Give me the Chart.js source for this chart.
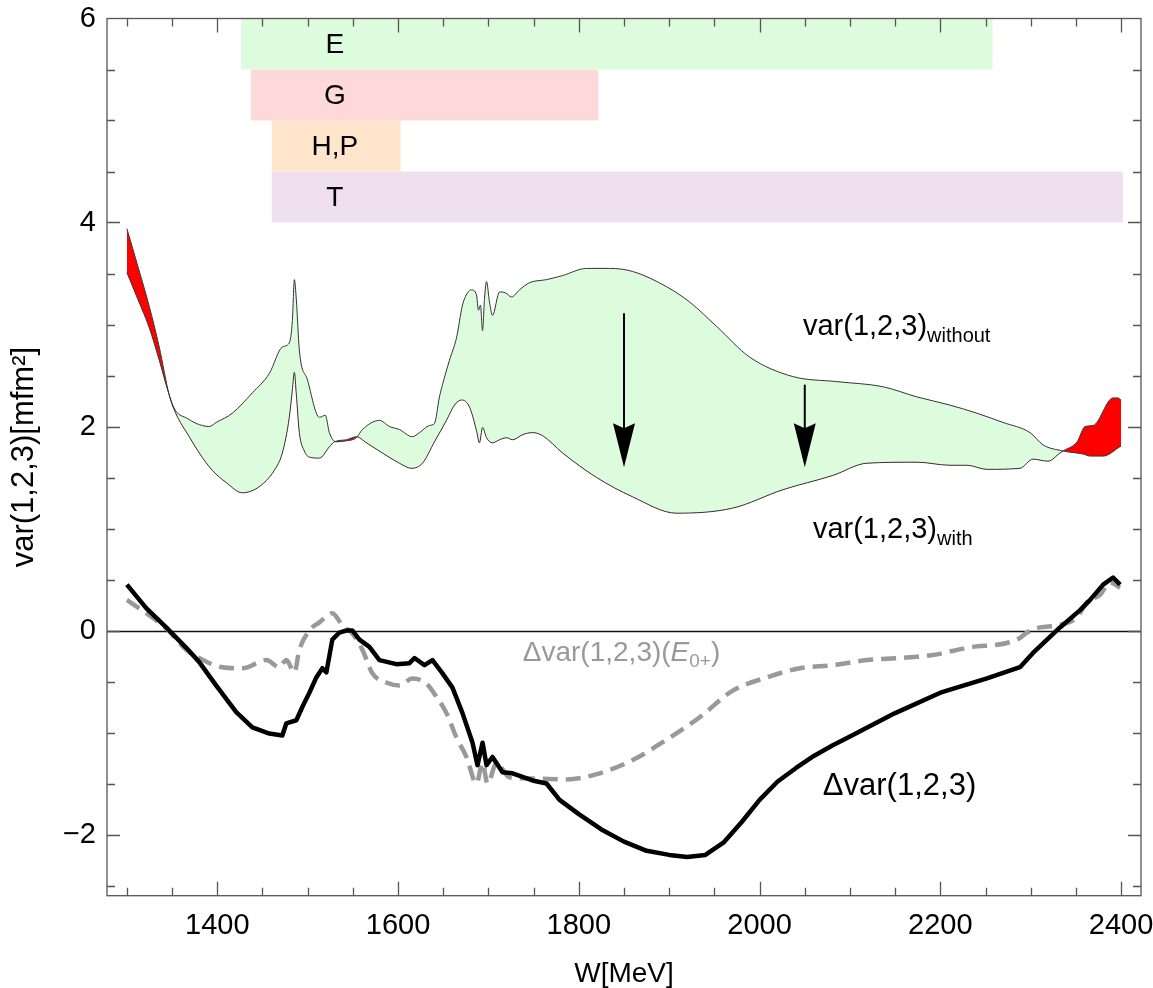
<!DOCTYPE html>
<html><head><meta charset="utf-8">
<script src="https://cdn.jsdelivr.net/npm/chart.js@4.4.0/dist/chart.umd.min.js"></script>
<style>html,body{margin:0;padding:0;background:#fff;}#wrap{width:1153px;height:988px;}</style>
</head><body><div id="wrap"><canvas id="c" width="1153" height="988"></canvas></div>
<script>
// ---- data (W in MeV, values in mfm^2) ----
const withoutW = [1300,1312.5,1324.7,1335.8,1346.8,1353.5,1366.8,1376.7,1391.1,1398.9,1416.6,1438.8,1457.6,1472,1479.7,1483.1,1485.3,1487.5,1490.8,1499.7,1513,1519.6,1524,1531.8,1542.9,1553.9,1560.6,1579.4,1590.5,1601.5,1615.9,1623.7,1634.8,1640.3,1645.8,1649.2,1656.9,1664.7,1671.3,1676.9,1681.3,1686.8,1689,1691.2,1693.5,1695.7,1697.9,1701.2,1704.5,1712.3,1718.9,1725.6,1734.4,1745.5,1764.3,1782.1,1808.6,1834.1,1859.6,1897.2,1922.7,1952.6,1989.1,2036.7,2085.4,2136.4,2174.1,2210.6,2240.5,2269.3,2299.2,2313.6,2335.8,2357.9,2365.7,2380.1,2400];
const withoutV = [3.51,3.24,2.97,2.65,2.31,2.16,2.08,2.03,2.00,2.04,2.13,2.33,2.52,2.78,2.82,3.04,3.44,3.24,2.75,2.46,2.09,2.11,1.94,1.85,1.86,1.89,1.97,2.06,2.00,1.97,1.90,1.94,2.01,2.03,2.29,2.41,2.65,2.87,3.19,3.31,3.34,3.29,3.14,3.19,2.94,3.26,3.42,3.22,3.09,3.32,3.31,3.27,3.34,3.41,3.44,3.48,3.55,3.55,3.52,3.37,3.22,2.98,2.68,2.49,2.44,2.39,2.29,2.21,2.13,2.04,1.94,1.82,1.76,1.73,1.71,1.71,1.81];
const withW = [1300,1312.5,1324.7,1335.8,1346.8,1353.5,1369,1380.1,1394.5,1410,1427.7,1441,1454.3,1463.1,1472,1479.7,1483.1,1485.3,1487.5,1490.8,1496.3,1501.9,1513,1524,1529.6,1542.9,1553.9,1565,1582.7,1601.5,1614.8,1627,1640.3,1653.6,1662.5,1670.2,1679.1,1686.8,1690.1,1693.5,1697.9,1704.5,1712.3,1720,1726.7,1737.8,1748.8,1759.9,1782.1,1819.7,1859.6,1908.3,1970.3,2025.7,2081,2118.7,2174.1,2210.6,2229.4,2251.6,2288.1,2302.5,2319.1,2332.4,2335.8,2351.3,2360.1,2369,2391.1,2396.7,2400];
const withV = [3.94,3.56,3.18,2.78,2.31,2.14,1.90,1.74,1.57,1.45,1.35,1.38,1.47,1.57,1.74,2.09,2.36,2.53,2.31,1.94,1.76,1.70,1.69,1.80,1.85,1.87,1.90,1.84,1.74,1.64,1.59,1.64,1.85,2.06,2.21,2.26,2.19,1.96,1.84,1.99,1.89,1.84,1.87,1.89,1.87,1.92,1.94,1.91,1.74,1.50,1.31,1.15,1.20,1.38,1.52,1.64,1.65,1.62,1.62,1.58,1.59,1.68,1.66,1.74,1.76,1.85,2.00,2.01,2.28,2.28,2.26];
const deltaW = [1300,1321.4,1343.5,1365.7,1380.1,1398.9,1421,1438.8,1457.6,1472,1476.4,1487.5,1494.1,1501.9,1509.6,1516.3,1520.7,1527.3,1535.1,1542.9,1549.5,1557.3,1568.3,1579.4,1598.2,1612.6,1618.2,1629.2,1638.1,1649.2,1660.2,1671.3,1682.4,1687.9,1693.5,1697.9,1704.5,1715.6,1726.7,1748.8,1764.3,1778.7,1800,1825,1850,1875,1900,1920,1940,1960,1980,2000,2020,2040,2060,2080,2100,2150,2200,2251.6,2288.1,2302.5,2332.4,2354.6,2365.7,2380.1,2391.1,2398.9];
const deltaV = [0.45,0.22,0.03,-0.17,-0.31,-0.54,-0.80,-0.95,-1.01,-1.03,-0.91,-0.88,-0.75,-0.61,-0.46,-0.37,-0.41,-0.09,-0.02,0.00,0.00,-0.09,-0.16,-0.29,-0.33,-0.32,-0.27,-0.34,-0.29,-0.42,-0.56,-0.81,-1.10,-1.32,-1.10,-1.32,-1.24,-1.39,-1.40,-1.47,-1.50,-1.66,-1.80,-1.95,-2.07,-2.16,-2.20,-2.22,-2.20,-2.08,-1.88,-1.66,-1.48,-1.35,-1.23,-1.13,-1.04,-0.81,-0.61,-0.47,-0.36,-0.22,0.03,0.20,0.30,0.45,0.52,0.45];
const deltaE0W = [1300,1321.4,1343.5,1365.7,1380.1,1405.5,1427.7,1454.3,1468.7,1476.4,1485.3,1490.8,1501.9,1513,1527.3,1538.4,1549.5,1560.6,1571.6,1587.1,1601.5,1615.9,1631.4,1642.5,1653.6,1664.7,1675.7,1686.8,1693.5,1699,1709,1723.4,1748.8,1786.5,1823,1859.6,1897.2,1933.8,1970.3,2008,2044.5,2081,2118.7,2155.2,2191.8,2229.4,2284.8,2295.9,2310.3,2329.1,2351.3,2362.3,2376.7,2387.8,2398.9];
const deltaE0V = [0.30,0.17,0.02,-0.19,-0.27,-0.36,-0.37,-0.29,-0.36,-0.29,-0.41,-0.19,0.00,0.08,0.17,0.05,-0.03,-0.19,-0.42,-0.51,-0.54,-0.47,-0.52,-0.65,-0.81,-1.05,-1.24,-1.50,-1.30,-1.50,-1.30,-1.44,-1.45,-1.46,-1.40,-1.27,-1.07,-0.85,-0.59,-0.46,-0.37,-0.34,-0.29,-0.27,-0.24,-0.17,-0.09,-0.02,0.03,0.05,0.13,0.28,0.35,0.47,0.42];
const bandNames = ['E','G','H,P','T'];
const bandStart = [1426,1437,1460,1460];
const bandEnd = [2258,1822,1603,2402];
const bandTop = [6,5.5,5,4.5];
const bandBottom = [5.5,5,4.5,4];
const bandLabelW = 1530;
const xTicks = [1400,1600,1800,2000,2200,2400];
const yTicks = [-2,0,2,4,6];
const arrowW = [1850,2050];
const arrowFrom = [3.11,2.41];
const arrowTo = [1.60,1.60];

// ---- styles ----
const FONT = '"Liberation Sans", Arial, sans-serif';
const bandColors = ['rgb(221,252,221)','rgb(255,217,217)','rgb(255,229,204)','rgb(239,223,239)'];
const GREEN = 'rgb(221,252,221)', RED = '#ff0000';
const textLabels = [
  {x:2048, y:2.975, color:'#000', size:29, sub:20, parts:[{t:'var(1,2,3)'},{t:'without',sub:true}]},
  {x:2059, y:0.985, color:'#000', size:29, sub:20, parts:[{t:'var(1,2,3)'},{t:'with',sub:true}]},
  {x:1738, y:-0.22, color:'#999', size:28, sub:19, parts:[{t:'\u0394var(1,2,3)('},{t:'E',it:true},{t:'0+',sub:true},{t:')'}]},
  {x:2070, y:-1.53, color:'#000', size:31, sub:20, parts:[{t:'\u0394var(1,2,3)'}]}
];

const pts = (xs, ys) => xs.map((x, i) => ({x, y: ys[i]}));

Chart.defaults.font.family = FONT;
Chart.defaults.color = '#000';

const datasets = [];
datasets.push({label:'Δvar', data: pts(deltaW, deltaV), borderColor:'#000', borderWidth:4.5, pointRadius:0, fill:false, tension:0, order:0, borderJoinStyle:'round'});
datasets.push({label:'ΔvarE0', data: pts(deltaE0W, deltaE0V), borderColor:'#999', borderWidth:4.5, borderDash:[15,8], pointRadius:0, fill:false, cubicInterpolationMode:'monotone', order:1});
datasets.push({label:'with', data: pts(withW, withV), borderColor:'#333', borderWidth:1, pointRadius:0, fill:false, cubicInterpolationMode:'monotone', order:2});
datasets.push({label:'without', data: pts(withoutW, withoutV), borderColor:'#333', borderWidth:1, pointRadius:0, cubicInterpolationMode:'monotone', order:3,
  fill:{target:2, above:GREEN, below:RED}});
bandNames.forEach((n, i) => {
  datasets.push({label:n, data:[{x:bandStart[i], y:bandTop[i]}, {x:bandEnd[i], y:bandTop[i]}],
    borderWidth:0, borderColor:'rgba(0,0,0,0)', pointRadius:0, backgroundColor:bandColors[i],
    fill:{value:bandBottom[i]}, order:4});
});

function drawRich(ctx, x, y, l) {
  let cx = x;
  ctx.fillStyle = l.color;
  ctx.textBaseline = 'middle';
  ctx.textAlign = 'left';
  for (const p of l.parts) {
    const size = p.sub ? l.sub : l.size;
    ctx.font = (p.it ? 'italic ' : '') + size + 'px ' + FONT;
    ctx.fillText(p.t, cx, y + (p.sub ? 9 : 0));
    cx += ctx.measureText(p.t).width;
  }
}

const annot = {
  id: 'annot',
  beforeDatasetsDraw(chart) {
    const {ctx, chartArea: a, scales: {y}} = chart;
    const py = Math.round(y.getPixelForValue(0)) + 0.5;
    ctx.save();
    ctx.strokeStyle = '#111'; ctx.lineWidth = 1.5;
    ctx.beginPath(); ctx.moveTo(a.left, py); ctx.lineTo(a.right, py); ctx.stroke();
    ctx.restore();
  },
  afterDatasetsDraw(chart) {
    const {ctx, scales: {x, y}} = chart;
    ctx.save();
    ctx.fillStyle = '#000'; ctx.font = '28px ' + FONT;
    ctx.textAlign = 'center'; ctx.textBaseline = 'middle';
    bandNames.forEach((n, i) => {
      ctx.fillText(n, x.getPixelForValue(bandLabelW), y.getPixelForValue((bandTop[i] + bandBottom[i]) / 2) + 1);
    });
    ctx.strokeStyle = '#000'; ctx.fillStyle = '#000'; ctx.lineWidth = 2;
    arrowW.forEach((w, i) => {
      const px = x.getPixelForValue(w), p0 = y.getPixelForValue(arrowFrom[i]), p1 = y.getPixelForValue(arrowTo[i]);
      const hl = 44, hw = 11;
      ctx.beginPath(); ctx.moveTo(px, p0); ctx.lineTo(px, p1 - hl + 6); ctx.stroke();
      ctx.beginPath(); ctx.moveTo(px, p1); ctx.lineTo(px - hw, p1 - hl); ctx.lineTo(px, p1 - hl + 5); ctx.lineTo(px + hw, p1 - hl); ctx.closePath(); ctx.fill();
    });
    textLabels.forEach(l => drawRich(ctx, x.getPixelForValue(l.x), y.getPixelForValue(l.y), l));
    ctx.restore();
  },
  afterDraw(chart) {
    const {ctx, chartArea: a, scales: {x, y}} = chart;
    ctx.save();
    ctx.strokeStyle = '#555'; ctx.lineWidth = 1.3;
    ctx.strokeRect(a.left, a.top, a.right - a.left, a.bottom - a.top);
    ctx.beginPath();
    for (let v = 1300; v <= 2400; v += 50) {
      const len = xTicks.includes(v) ? 14 : 8;
      const px = Math.round(x.getPixelForValue(v)) + 0.5;
      ctx.moveTo(px, a.bottom); ctx.lineTo(px, a.bottom - len);
      ctx.moveTo(px, a.top); ctx.lineTo(px, a.top + len);
    }
    for (let k = -5; k <= 11; k++) {
      const v = k / 2;
      const len = yTicks.includes(v) ? 13 : 8;
      const py = Math.round(y.getPixelForValue(v)) + 0.5;
      ctx.moveTo(a.left, py); ctx.lineTo(a.left + len, py);
      ctx.moveTo(a.right, py); ctx.lineTo(a.right - len, py);
    }
    ctx.stroke();
    ctx.restore();
  }
};

const zeroPad = s => { s.paddingTop = 0; s.paddingBottom = 0; s.paddingLeft = 0; s.paddingRight = 0; };

new Chart(document.getElementById('c'), {
  type: 'line',
  data: { datasets },
  options: {
    responsive: false,
    animation: false,
    layout: { padding: {top: 18.5, right: 12, bottom: 0, left: 0}, autoPadding: false },
    plugins: { legend: {display:false}, tooltip: {enabled:false}, filler: {propagate:false} },
    scales: {
      x: {
        type: 'linear', min: 1278, max: 2422,
        afterBuildTicks: s => { s.ticks = xTicks.map(v => ({value: v})); },
        afterFit: s => { s.height = 92.3; zeroPad(s); },
        grid: {display:false, drawTicks:false}, border: {display:false},
        ticks: {font: {size: 29}, color:'#000', padding: 13, maxRotation: 0, autoSkip: false, callback: v => String(v)},
        title: {display: true, text: 'W[MeV]', font: {size: 28, lineHeight: 1}, color:'#000', padding: {top:0, bottom:0}}
      },
      y: {
        type: 'linear', min: -2.6, max: 6,
        afterBuildTicks: s => { s.ticks = yTicks.map(v => ({value: v})); },
        afterFit: s => { s.width = 107; zeroPad(s); },
        grid: {display:false, drawTicks:false}, border: {display:false},
        ticks: {font: {size: 29}, color:'#000', padding: 11, callback: v => v < 0 ? '\u2212' + Math.abs(v) : String(v)},
        title: {display: true, text: 'var(1,2,3)[mfm\u00b2]', font: {size: 31, lineHeight: 1.2}, color:'#000', padding: {top: 6, bottom: 0}}
      }
    }
  },
  plugins: [annot]
});
</script>
</body></html>
